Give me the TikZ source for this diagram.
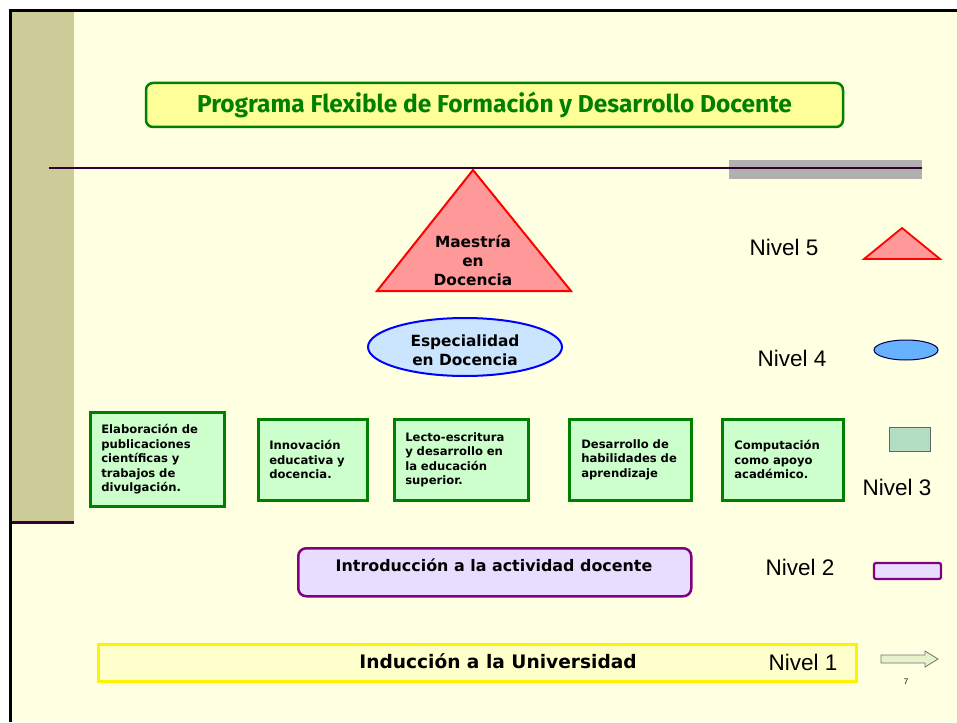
\documentclass[tikz,border=0pt]{standalone}
\usepackage{fontspec}
\usepackage{xcolor}
\usepackage{tikz}
\setmainfont{DejaVu Sans}
\newfontfamily\arialf{Liberation Sans}
\newfontfamily\titlef{Fira Sans}
\definecolor{slidebg}{HTML}{FFFFE1}
\definecolor{bandkhaki}{HTML}{CCCC99}
\definecolor{darkplum}{HTML}{330033}
\definecolor{titlegreen}{HTML}{008000}
\definecolor{titlefill}{HTML}{FFFF99}
\definecolor{pinkfill}{HTML}{FF9999}
\definecolor{bluefill}{HTML}{CCE5FF}
\definecolor{legendblue}{HTML}{66B2FF}
\definecolor{mintfill}{HTML}{CCFFCC}
\definecolor{legendmint}{HTML}{B3DEC4}
\definecolor{lavender}{HTML}{E9DDFF}
\definecolor{purpleline}{HTML}{800080}
\definecolor{paleyellow}{HTML}{FFFFCC}
\definecolor{arrowfill}{HTML}{E6F2CC}
\tikzset{
	greenbox/.style={draw=titlegreen, fill=mintfill, line width=2.6pt, anchor=north west, align=left, inner ysep=0pt, font=\bfseries\fontsize{11.6}{14.5}\selectfont},
	nivel/.style={font=\arialf\fontsize{22.5}{24}\selectfont, anchor=base},
}

\begin{document}
\begin{tikzpicture}[x=1pt, y=-1pt]
	\useasboundingbox (0,0) rectangle (957,722);
	\fill[white] (0,0) rectangle (957,722);
	\fill[slidebg] (11,11) rectangle (957,722);
	\fill[bandkhaki] (11,11) rectangle (74,521);
	\draw[darkplum, line width=3pt] (11,522) -- (74,522);
	\draw[black, line width=2.5pt] (10.5,722) -- (10.5,10.5) -- (957,10.5);
	% title
	\node[draw=titlegreen, fill=titlefill, line width=2.5pt, rounded corners=7pt, minimum width=697, minimum height=44, inner sep=0pt, text=titlegreen, font=\titlef\bfseries\fontsize{24.5}{26}\selectfont] (titulo) at (494.5,105) {Programa Flexible de Formación y Desarrollo Docente};
	% rule with grey bar
	\fill[black!31] (729,160) rectangle (922,179);
	\draw[darkplum, line width=2pt] (49,168) -- (922,168);
	% level 5
	\draw[draw=red, fill=pinkfill, line width=2pt, line join=miter] (473,170) -- (571,291) -- (377,291) -- cycle;
	\node[align=center, font=\bfseries\fontsize{15.4}{19}\selectfont] (maestria) at (473,260) {Maestría\\en\\Docencia};
	% level 4
	\draw[draw=blue, fill=bluefill, line width=2pt] (465,347) ellipse (97 and 29);
	\node[align=center, font=\bfseries\fontsize{15.4}{19}\selectfont] (especialidad) at (465,350) {Especialidad\\en Docencia};
	% level 3
	\node[greenbox, inner xsep=11pt, text width=112pt, minimum height=94] (publicaciones) at (89,411) {Elaboración de\\publicaciones\\científicas y\\trabajos de\\divulgación.};
	\node[greenbox, inner xsep=11pt, text width=87pt, minimum height=81] (innovacion) at (257,418) {Innovación\\educativa y\\docencia.};
	\node[greenbox, inner xsep=11pt, text width=112pt, minimum height=81] (lectoescritura) at (393,418) {Lecto-escritura\\y desarrollo en\\la educación\\superior.\\[4pt]};
	\node[greenbox, inner xsep=12pt, text width=98pt, minimum height=81] (habilidades) at (568,418) {Desarrollo de\\habilidades de\\aprendizaje};
	\node[greenbox, inner xsep=12pt, text width=97pt, minimum height=81] (computacion) at (721,418) {Computación\\como apoyo\\académico.};
	% level 2
	\node[draw=purpleline, fill=lavender, line width=2.5pt, rounded corners=8pt, minimum width=393, minimum height=48, anchor=north west] (introduccion) at (297,547) {};
	\node[anchor=base, font=\bfseries\fontsize{15.9}{17}\selectfont] (introtexto) at (494,571) {Introducción a la actividad docente};
	% level 1
	\node[draw=yellow, fill=paleyellow, line width=3pt, minimum width=758, minimum height=37, anchor=north west] (induccion) at (97,643) {};
	\node[anchor=base, font=\bfseries\fontsize{18.6}{20}\selectfont] (inductexto) at (498,668) {Inducción a la Universidad};
	% legend
	\node[nivel] (n5) at (784,255) {Nivel 5};
	\node[nivel] (n4) at (792,366) {Nivel 4};
	\node[nivel] (n3) at (897,495) {Nivel 3};
	\node[nivel] (n2) at (800,575) {Nivel 2};
	\node[nivel] (n1) at (803,670) {Nivel 1};
	\draw[draw=red, fill=pinkfill, line width=1.8pt] (902,228) -- (940,259) -- (864,259) -- cycle;
	\draw[draw=black!70!blue, fill=legendblue, line width=1pt] (906,350) ellipse (32 and 10);
	\draw[draw=black!60, fill=legendmint, line width=1pt] (889,427) rectangle (930,451);
	\draw[draw=purpleline, fill=lavender, line width=2.2pt, rounded corners=2pt] (874,563) rectangle (941,579);
	\draw[draw=black!55, fill=arrowfill, line width=0.8pt] (881,655) -- (925,655) -- (925,651) -- (938,659) -- (925,667) -- (925,663) -- (881,663) -- cycle;
	\node[font=\arialf\fontsize{8}{9}\selectfont] (pagina) at (906,682) {7};
\end{tikzpicture}
\end{document}
